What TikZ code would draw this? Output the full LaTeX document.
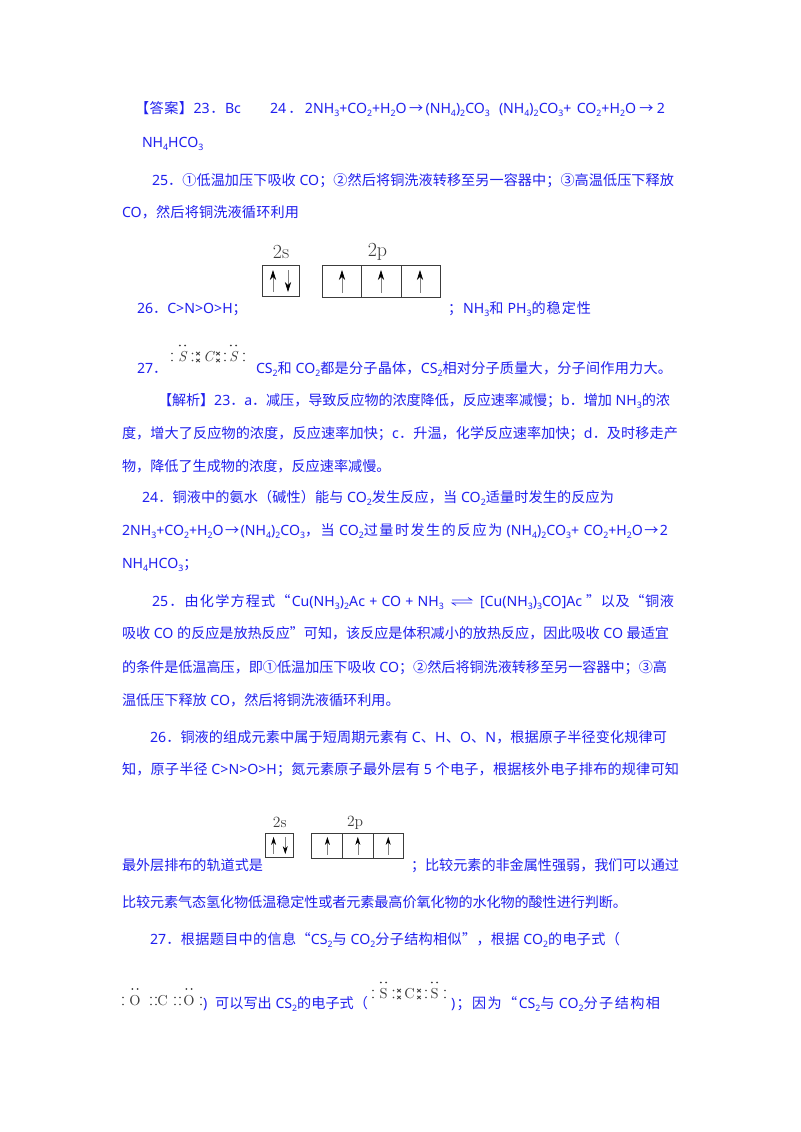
\documentclass[tikz,border=0pt]{standalone}
\usepackage{fontspec}
\setmainfont{Noto Sans}
\newfontfamily\cjkf{Noto Sans CJK SC}
\newfontfamily\serifpart{Latin Modern Roman}
\usetikzlibrary{arrows.meta}
\definecolor{ink}{RGB}{32,32,238}
\definecolor{pen}{RGB}{60,60,60}
\hbadness=10000 \hfuzz=50pt
% automatic switch between Latin and CJK fonts, with stretch between CJK glyphs
\newXeTeXintercharclass\cjkclass
\newcount\cc
\newcommand{\setrange}[3]{\cc=#1 \loop\XeTeXcharclass\cc=#3 \ifnum\cc<#2 \advance\cc by 1 \repeat}
\setrange{32}{126}{0}
\setrange{"2018}{"201D}{\cjkclass}
\setrange{"4E00}{"9FFF}{\cjkclass}
\setrange{"3000}{"30FF}{\cjkclass}
\setrange{"FF00}{"FFEF}{\cjkclass}
\setrange{"2460}{"2473}{\cjkclass}
\XeTeXcharclass"2192=\cjkclass
\XeTeXinterchartokenstate=1
\newskip\cjkglue \cjkglue=0pt plus 3pt minus 1pt
\XeTeXinterchartoks\cjkclass\cjkclass={\hskip\cjkglue}
\XeTeXinterchartoks 0 \cjkclass={\hskip\cjkglue\cjkf}
\XeTeXinterchartoks\cjkclass 0 ={\normalfont\fontsize{10.6pt}{12pt}\selectfont\hskip\cjkglue}
\XeTeXinterchartoks 4095 \cjkclass={\cjkf}
\XeTeXinterchartoks\cjkclass 4095 ={\normalfont\fontsize{10.6pt}{12pt}\selectfont}
\newcommand{\Sb}[1]{\raisebox{-0.22em}{\fontsize{6.6pt}{7pt}\selectfont #1}}
\tikzset{
  x=0.75pt,y=-0.75pt,
  textline/.style={anchor=base west,inner sep=0pt,outer sep=0pt,text=ink,font=\fontsize{10.6pt}{12pt}\selectfont},
  orbbox/.style={draw=pen,line width=0.55pt},
  spin/.style={draw=gray,line width=0.45pt,-{Stealth[length=#1,width=0.62*#1,black]}},
  orblabel/.style={inner sep=0pt,text=pen},
  atom/.style={inner sep=0pt,text=pen},
  harpoon/.style={ink,line width=0.5pt},
}
% \fitline{name}{x1}{x2}{baseline}{text}: a line that runs from x1 to x2
\newcommand{\fitline}[5]{\node[textline] (#1) at (#2,#4) {\hbox to \dimexpr 0.75pt*\numexpr#3-#2\relax\relax{#5}};}
% \orbital{x}{y}{scale}{label size}{head length}
\newcommand{\orbital}[5]{%
 \begin{scope}[shift={(#1,#2)},x={#3*0.75pt},y={-#3*0.75pt}]
  \draw[orbbox] (0,0) rectangle (37,31);
  \draw[orbbox] (60,0) rectangle (178,32);
  \draw[orbbox] (99,0) -- (99,32);
  \draw[orbbox] (139,0) -- (139,32);
  \draw[spin=#5] (11,27) -- (11,5);
  \draw[spin=#5] (26,5) -- (26,27);
  \draw[spin=#5] (80,28) -- (80,5);
  \draw[spin=#5] (119,28) -- (119,5);
  \draw[spin=#5] (158,28) -- (158,5);
  \node[orblabel,font=\serifpart\fontsize{#4}{#4}\selectfont] at (19,-13) {2s};
  \node[orblabel,font=\serifpart\fontsize{#4}{#4}\selectfont] at (115.5,-13) {2p};
 \end{scope}}
\newcommand{\twodots}[2]{\fill[pen] (#1,#2-3.5) circle (0.95) (#1,#2+3.5) circle (0.95);}
\newcommand{\overdots}[2]{\fill[pen] (#1-2.6,#2) circle (0.95) (#1+2.6,#2) circle (0.95);}
\newcommand{\onecross}[2]{\draw[pen,line width=0.6pt] (#1-1.8,#2-1.6) -- (#1+1.8,#2+1.6) (#1-1.8,#2+1.6) -- (#1+1.8,#2-1.6);}
\newcommand{\crossdots}[2]{\onecross{#1}{#2-3.4}\onecross{#1}{#2+3.4}}
% \cstwo{x}{y}{font}
\newcommand{\cstwo}[3]{%
 \begin{scope}[shift={(#1,#2)}]
  \twodots{0}{0}\node[atom,font=\serifpart#3\fontsize{10.8pt}{10.8pt}\selectfont] (sa) at (10.5,0) {S};
  \overdots{10.5}{-11.5}\twodots{20.5}{0}\crossdots{26}{0}
  \node[atom,font=\serifpart#3\fontsize{10.8pt}{10.8pt}\selectfont] (ca) at (36.5,0) {C};
  \crossdots{46}{0}\twodots{53}{0}
  \node[atom,font=\serifpart#3\fontsize{10.8pt}{10.8pt}\selectfont] (sb) at (61.5,0) {S};
  \overdots{61.5}{-11.5}\twodots{72}{0}
 \end{scope}}
\begin{document}
\begin{tikzpicture}
\useasboundingbox (0,0) rectangle (800,1132);
\fill[white] (0,0) rectangle (800,1132);
\fitline{l1}{135}{241}{113}{【答案】23．Bc}
\fitline{l1b}{270}{490}{113}{24．2NH\Sb{3}+CO\Sb{2}+H\Sb{2}O→(NH\Sb{4})\Sb{2}CO\Sb{3}}
\fitline{l1c}{499}{665}{113}{(NH\Sb{4})\Sb{2}CO\Sb{3}+ CO\Sb{2}+H\Sb{2}O→2}
\node[textline] (l2) at (142,147) {NH\Sb{4}HCO\Sb{3}};
\fitline{l3}{152}{674}{185}{25．①低温加压下吸收 CO；②然后将铜洗液转移至另一容器中；③高温低压下释放}
\fitline{l4}{122}{299}{217}{CO，然后将铜洗液循环利用}
\orbital{262}{265}{1}{15pt}{7.5pt}
\node[textline] (l5) at (137,313) {26．C>N>O>H；};
\fitline{l5b}{448}{591}{313}{；NH\Sb{3}和 PH\Sb{3}的稳定性}
\node[textline] (l6) at (137,373) {27．};
\cstwo{172}{357}{\itshape}
\fitline{l6b}{256}{672}{373}{CS\Sb{2}和 CO\Sb{2}都是分子晶体，CS\Sb{2}相对分子质量大，分子间作用力大。}
\fitline{l7}{158}{670}{405}{【解析】23．a．减压，导致反应物的浓度降低，反应速率减慢；b．增加 NH\Sb{3}的浓}
\fitline{l8}{122}{678}{438}{度，增大了反应物的浓度，反应速率加快；c．升温，化学反应速率加快；d．及时移走产}
\node[textline] (l9) at (122,471) {物，降低了生成物的浓度，反应速率减慢。};
\fitline{l10}{142}{614}{502}{24．铜液中的氨水（碱性）能与 CO\Sb{2}发生反应，当 CO\Sb{2}适量时发生的反应为}
\fitline{l11}{122}{668}{535}{2NH\Sb{3}+CO\Sb{2}+H\Sb{2}O→(NH\Sb{4})\Sb{2}CO\Sb{3}，当 CO\Sb{2}过量时发生的反应为 (NH\Sb{4})\Sb{2}CO\Sb{3}+ CO\Sb{2}+H\Sb{2}O→2}
\node[textline] (l12) at (122,568) {NH\Sb{4}HCO\Sb{3}；};
\fitline{l13}{152}{444}{606}{25．由化学方程式“Cu(NH\Sb{3})\Sb{2}Ac + CO + NH\Sb{3}}
\coordinate (hl) at (452,600);
\coordinate (hr) at (472,600);
\coordinate (gl) at (452,603);
\coordinate (gr) at (472,603);
\draw[harpoon] (hl) -- (hr) -- ++(-4,-2.5);
\draw[harpoon] (gr) -- (gl) -- ++(4,2.5);
\fitline{l13b}{480}{674}{606}{[Cu(NH\Sb{3})\Sb{3}CO]Ac ”以及“铜液}
\fitline{l14}{122}{669}{638}{吸收 CO 的反应是放热反应”可知，该反应是体积减小的放热反应，因此吸收 CO 最适宜}
\fitline{l15}{122}{667}{672}{的条件是低温高压，即①低温加压下吸收 CO；②然后将铜洗液转移至另一容器中；③高}
\node[textline] (l16) at (122,705) {温低压下释放 CO，然后将铜洗液循环利用。};
\fitline{l17}{150}{667}{742}{26．铜液的组成元素中属于短周期元素有 C、H、O、N，根据原子半径变化规律可}
\fitline{l18}{122}{679}{774}{知，原子半径 C>N>O>H；氮元素原子最外层有 5 个电子，根据核外电子排布的规律可知}
\orbital{265}{833}{0.78}{11.7pt}{6pt}
\fitline{l19}{122}{263}{870}{最外层排布的轨道式是}
\fitline{l19b}{411}{679}{870}{；比较元素的非金属性强弱，我们可以通过}
\fitline{l20}{122}{627}{907}{比较元素气态氢化物低温稳定性或者元素最高价氧化物的水化物的酸性进行判断。}
\fitline{l21}{150}{620}{944}{27．根据题目中的信息“CS\Sb{2}与 CO\Sb{2}分子结构相似”，根据 CO\Sb{2}的电子式（}
\begin{scope}[shift={(123,1001)}]
 \twodots{0}{0}\node[atom,font=\serifpart\fontsize{10.8pt}{10.8pt}\selectfont] (oa) at (12,0) {O};
 \overdots{12}{-12}\twodots{28}{0}\twodots{33}{0}
 \node[atom,font=\serifpart\fontsize{10.8pt}{10.8pt}\selectfont] (cb) at (39.5,0) {C};
 \twodots{52}{0}\twodots{57}{0}
 \node[atom,font=\serifpart\fontsize{10.8pt}{10.8pt}\selectfont] (ob) at (66,0) {O};
 \overdots{66}{-12}\twodots{78}{0}
\end{scope}
\fitline{l22}{203}{368}{1008}{)\kern 6pt 可以写出 CS\Sb{2}的电子式（}
\cstwo{373}{994}{}
\fitline{l22b}{451}{660}{1008}{)\kern 1pt；因为“CS\Sb{2}与 CO\Sb{2}分子结构相}
\end{tikzpicture}
\end{document}
